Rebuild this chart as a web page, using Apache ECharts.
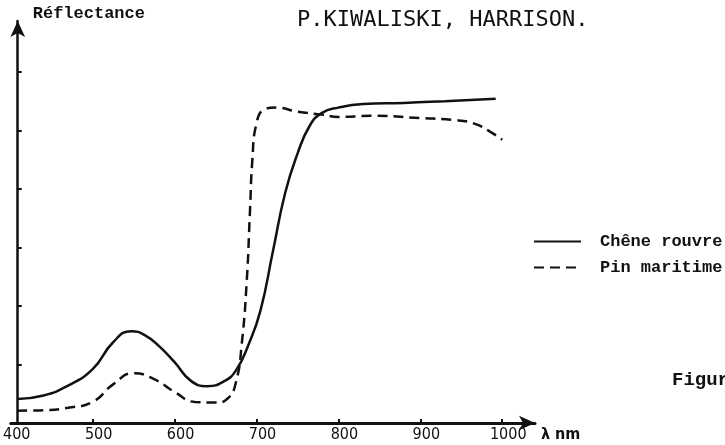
<!DOCTYPE html>
<html>
<head>
<meta charset="utf-8">
<script src="https://cdn.jsdelivr.net/npm/echarts@6/dist/echarts.min.js"></script>
<style>html,body{margin:0;padding:0;background:#fff}#c{width:725px;height:445px}</style>
</head>
<body>
<div id="c"></div>
<script>
// Wavelength ticks (nm)
const xTickLabels = [400, 500, 600, 700, 800, 900, 1000];
const xTickMarks = [500, 600, 700, 800, 900, 1000];
const yTickMarks = [1, 2, 3, 4, 5, 6];

// Chêne rouvre (solid)
const cheneNm  = [408, 440, 470, 500, 525, 547, 565, 582, 600, 620, 640, 660, 675, 690, 705, 720, 735, 750, 765, 780, 800, 830, 880, 930, 992];
const cheneRef = [0.41, 0.47, 0.64, 0.92, 1.38, 1.57, 1.49, 1.30, 1.04, 0.72, 0.63, 0.71, 0.90, 1.33, 1.93, 2.93, 3.93, 4.60, 5.08, 5.30, 5.39, 5.45, 5.47, 5.50, 5.54];

// Pin maritime (dashed)
const pinNm  = [408, 440, 470, 500, 525, 550, 575, 600, 625, 650, 665, 675, 682, 688, 692, 695, 700, 710, 725, 750, 780, 800, 840, 900, 940, 965, 985, 1000];
const pinRef = [0.21, 0.22, 0.26, 0.36, 0.66, 0.85, 0.75, 0.53, 0.36, 0.35, 0.42, 0.70, 1.35, 2.40, 3.60, 4.50, 5.12, 5.36, 5.39, 5.32, 5.27, 5.23, 5.25, 5.21, 5.18, 5.12, 4.98, 4.84];

const pairs = (xs, ys) => xs.map((x, i) => [x, ys[i]]);
const mono = '"Liberation Mono", "DejaVu Sans Mono", monospace';
const cond = '"DejaVu Sans Condensed", "DejaVu Sans", sans-serif';

const chart = echarts.init(document.getElementById('c'), null, {renderer: 'canvas'});
chart.setOption({
  backgroundColor: '#ffffff',
  animation: false,
  grid: {left: 5, right: 190, top: 21, bottom: 22, containLabel: false},
  legend: {
    orient: 'vertical',
    left: 528,
    top: 228,
    itemWidth: 47,
    itemHeight: 14,
    itemGap: 9,
    itemStyle: {opacity: 0},
    textStyle: {fontFamily: mono, fontWeight: 'bold', fontSize: 17, color: '#111', padding: [0, 0, 0, 14]},
    data: ['Chêne rouvre', 'Pin maritime']
  },
  xAxis: {
    type: 'value',
    min: 400,
    max: 1040,
    interval: 100,
    name: 'λ nm',
    nameLocation: 'end',
    nameGap: 6,
    nameTextStyle: {fontFamily: cond, fontSize: 16, fontWeight: 'bold', color: '#111', verticalAlign: 'top', padding: [4, 0, 0, 0]},
    axisLine: {show: true, onZero: false, symbol: ['none', 'arrow'], symbolSize: [11, 16], lineStyle: {color: '#111', width: 3}},
    axisTick: {show: true, inside: true, length: 4, customValues: xTickMarks, lineStyle: {color: '#111', width: 2}},
    axisLabel: {show: true, customValues: xTickLabels, formatter: v => String(v), margin: 4, color: '#111', fontSize: 16, fontFamily: cond, padding: [0, 0, 0, 12]},
    splitLine: {show: false}
  },
  yAxis: {
    type: 'value',
    min: 0,
    max: 6.87,
    interval: 1,
    offset: -7,
    name: 'Réflectance',
    nameLocation: 'end',
    nameGap: 7,
    nameTextStyle: {fontFamily: mono, fontWeight: 'bold', fontSize: 17, color: '#111', align: 'left', verticalAlign: 'middle', padding: [0, 0, 0, 15]},
    axisLine: {show: true, onZero: false, symbol: ['none', 'arrow'], symbolSize: [11, 16], lineStyle: {color: '#111', width: 2.5}},
    axisTick: {show: true, inside: true, length: 4, customValues: yTickMarks, lineStyle: {color: '#111', width: 2}},
    axisLabel: {show: false},
    splitLine: {show: false}
  },
  graphic: [
    {type: 'text', left: 297, top: 9, style: {text: 'P.KIWALISKI, HARRISON.', fontFamily: '"DejaVu Sans Mono", monospace', fontSize: 22, fill: '#111'}},
    {type: 'text', left: 672, top: 371, style: {text: 'Figure', fontFamily: mono, fontWeight: 'bold', fontSize: 19, fill: '#111'}}
  ],
  series: [
    {
      name: 'Chêne rouvre',
      type: 'line',
      data: pairs(cheneNm, cheneRef),
      smooth: 0.5,
      showSymbol: false,
      symbol: 'none',
      lineStyle: {color: '#111', width: 2.5},
      itemStyle: {color: '#111'}
    },
    {
      name: 'Pin maritime',
      type: 'line',
      data: pairs(pinNm, pinRef),
      smooth: 0.5,
      showSymbol: false,
      symbol: 'none',
      lineStyle: {color: '#111', width: 2.5, type: [10, 6]},
      itemStyle: {color: '#111'}
    }
  ]
});
</script>
</body>
</html>
